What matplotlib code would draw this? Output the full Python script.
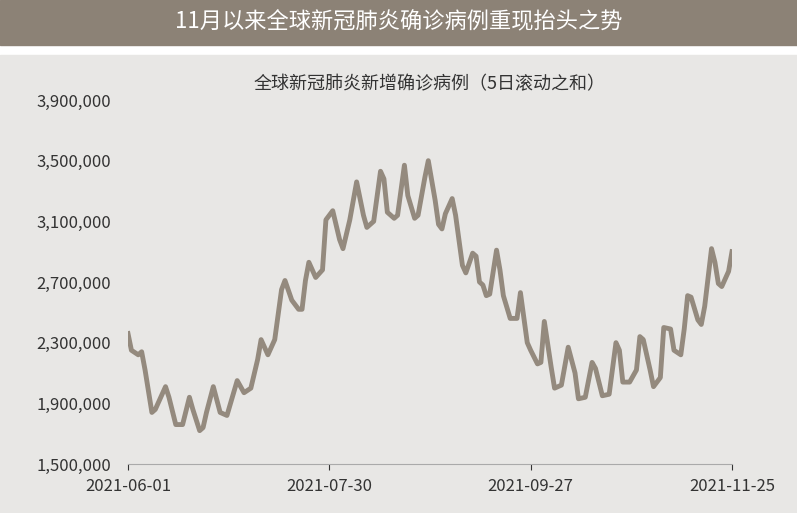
import numpy as np
import pandas as pd
import matplotlib.pyplot as plt

plt.rcParams['font.family'] = ['Noto Sans CJK SC', 'DejaVu Sans']

start = pd.Timestamp('2021-06-01')
day_offsets = [0, 1, 3, 4, 5, 7, 8, 11, 12, 14, 16, 18, 19, 21, 22, 23, 25, 27, 29, 32,
               34, 36, 38, 39, 41, 43, 45, 46, 48, 50, 51, 52, 53, 55, 57, 58, 60, 62, 63, 65,
               67, 69, 70, 72, 74, 75, 76, 78, 79, 81, 82, 84, 85, 87, 88, 90, 91, 92, 93, 95,
               96, 98, 99, 101, 102, 103, 104, 105, 106, 108, 109, 110, 112, 114, 115, 117, 118, 120, 121, 122,
               124, 125, 127, 129, 131, 132, 134, 136, 137, 139, 141, 143, 144, 145, 147, 149, 150, 151, 153, 154,
               156, 157, 159, 160, 162, 163, 164, 165, 167, 168, 169, 171, 172, 173, 174, 176, 177]
cases = [2.36, 2.25, 2.22, 2.24, 2.12, 1.84, 1.86, 2.01, 1.94, 1.76, 1.76, 1.94, 1.86, 1.72, 1.74, 1.84, 2.01, 1.84, 1.82, 2.05,
         1.97, 2.00, 2.19, 2.32, 2.22, 2.32, 2.65, 2.71, 2.58, 2.52, 2.52, 2.71, 2.83, 2.73, 2.78, 3.11, 3.17, 2.98, 2.92, 3.11,
         3.36, 3.14, 3.06, 3.10, 3.43, 3.38, 3.16, 3.12, 3.14, 3.47, 3.27, 3.12, 3.14, 3.39, 3.50, 3.24, 3.08, 3.05, 3.15, 3.25,
         3.14, 2.81, 2.76, 2.89, 2.87, 2.70, 2.68, 2.61, 2.62, 2.91, 2.78, 2.61, 2.46, 2.46, 2.63, 2.30, 2.25, 2.16, 2.17, 2.44,
         2.14, 2.00, 2.02, 2.27, 2.10, 1.93, 1.94, 2.17, 2.13, 1.95, 1.96, 2.30, 2.25, 2.04, 2.04, 2.12, 2.34, 2.32, 2.12, 2.01,
         2.07, 2.40, 2.39, 2.25, 2.22, 2.39, 2.61, 2.60, 2.45, 2.42, 2.54, 2.92, 2.83, 2.69, 2.67, 2.77, 2.90]
dates = start + pd.to_timedelta(day_offsets, unit='D')
values = np.array(cases) * 1e6

y_ticks = [1500000, 1900000, 2300000, 2700000, 3100000, 3500000, 3900000]
x_tick_labels = ['2021-06-01', '2021-07-30', '2021-09-27', '2021-11-25']

fig = plt.figure(figsize=(7.97, 5.13), dpi=100, facecolor='white')
# header band and chart background
fig.add_artist(plt.Rectangle((0, 1 - 45 / 513), 1, 45 / 513, transform=fig.transFigure,
                             color='#8c8276', zorder=-10))
fig.add_artist(plt.Rectangle((0, 0), 1, 1 - 55 / 513, transform=fig.transFigure,
                             color='#e8e7e5', zorder=-10))
fig.text(0.5, 1 - 22 / 513, '11月以来全球新冠肺炎确诊病例重现抬头之势', color='white',
         fontsize=16, ha='center', va='center')

ax = fig.add_axes([128 / 797, 1 - 464 / 513, (732 - 128) / 797, 364 / 513])
ax.set_zorder(5)
ax.set_facecolor('none')
ax.plot(dates, values, color='#948a7e', lw=3.5, solid_joinstyle='round')
ax.set_xlim(start, pd.Timestamp('2021-11-25'))
ax.set_ylim(1500000, 3900000)
ax.set_yticks(y_ticks)
ax.set_yticklabels([f'{v:,}' for v in y_ticks])
ax.set_xticks(pd.to_datetime(x_tick_labels))
ax.set_xticklabels(x_tick_labels)
ax.tick_params(axis='y', length=0, labelsize=12, colors='#333333', pad=12)
ax.tick_params(axis='x', length=4, labelsize=12, colors='#333333', direction='out', pad=6)
for s in ['top', 'right', 'left']:
    ax.spines[s].set_visible(False)
ax.spines['bottom'].set_color('#aaaaaa')
ax.set_title('全球新冠肺炎新增确诊病例（5日滚动之和）', fontsize=13, color='#333333', pad=8)

fig.savefig('out.png', dpi=100)
